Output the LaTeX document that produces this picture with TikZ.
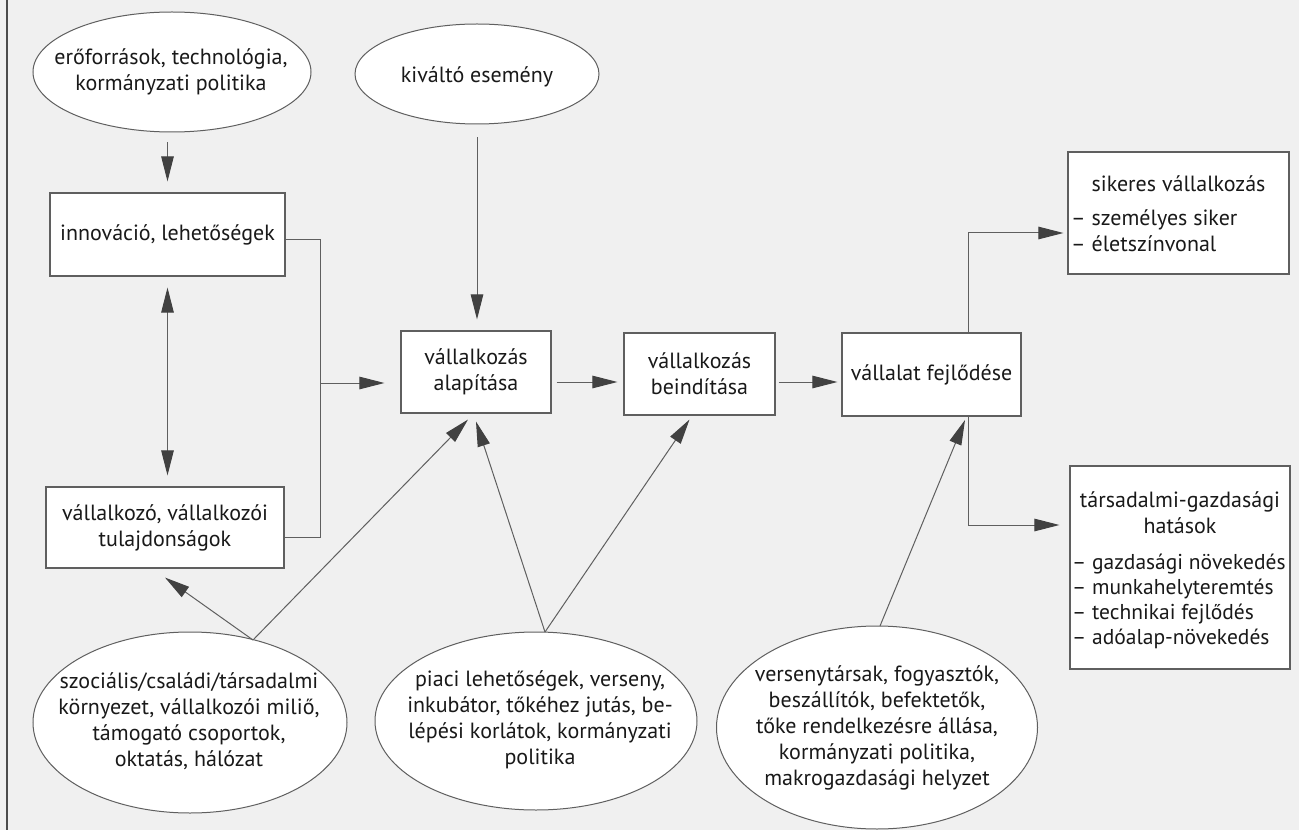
\documentclass[tikz,border=0pt]{standalone}
\usepackage{fontspec}
\setmainfont{PT Sans}
\usetikzlibrary{arrows.meta,shapes.geometric}
\definecolor{bgc}{RGB}{240,240,240}
\definecolor{lnc}{RGB}{95,95,95}
\definecolor{hdc}{RGB}{65,65,65}
\definecolor{txc}{RGB}{25,25,25}
\begin{document}
\begin{tikzpicture}[x=1pt,y=-1pt,
  every node/.style={font=\fontsize{22}{26}\selectfont, text=txc},
  boxn/.style={draw=lnc, line width=1.1pt, fill=white, rectangle, inner sep=0pt, align=center},
  elln/.style={draw=lnc, line width=1pt, fill=white, ellipse, inner sep=0pt},
  etext/.style={align=center, inner sep=0pt},
  conn/.style={draw=lnc, line width=1pt},
  arr/.style={conn, -{Triangle[length=25pt,width=12.5pt,fill=hdc,color=hdc]}},
  darr/.style={conn, {Triangle[length=25pt,width=12.5pt,fill=hdc,color=hdc]}-{Triangle[length=25pt,width=12.5pt,fill=hdc,color=hdc]}},
]
\fill[bgc] (0,0) rectangle (1299,837);
\useasboundingbox (0,0) rectangle (1299,837);
\fill[white] (0,830) rectangle (1299,837);
\draw[line width=1.5pt, black!70] (7,0) -- (7,830);

% ellipses
\node[elln, minimum width=278pt, minimum height=120pt] (e1) at (172,72) {};
\node[etext] (e1t) at (171,72) {erőforrások, technológia,\\kormányzati politika};
\node[elln, minimum width=244pt, minimum height=100pt] (e2) at (477,74) {};
\node[etext] (e2t) at (477,77) {kiváltó esemény};
\node[elln, minimum width=314pt, minimum height=181pt] (e3) at (190,722.5) {};
\node[etext] (e3t) at (189,721) {szociális/családi/társadalmi\\környezet, vállalkozói miliő,\\támogató csoportok,\\oktatás, hálózat};
\node[elln, minimum width=322pt, minimum height=178pt] (e4) at (536,721) {};
\node[etext] (e4t) at (540,720) {piaci lehetőségek, verseny,\\inkubátor, tőkéhez jutás, be-\\lépési korlátok, kormányzati\\politika};
\node[elln, minimum width=321pt, minimum height=203pt] (e5) at (877,727.5) {};
\node[etext] (e5t) at (877,728) {versenytársak, fogyasztók,\\beszállítók, befektetők,\\tőke rendelkezésre állása,\\kormányzati politika,\\makrogazdasági helyzet};

% boxes
\node[boxn, minimum width=235pt, minimum height=83pt] (innov) at (167.5,234.5) {innováció, lehetőségek};
\node[boxn, minimum width=238pt, minimum height=81pt] (vall) at (165,527.5) {vállalkozó, vállalkozói\\tulajdonságok};
\node[boxn, minimum width=150pt, minimum height=82pt] (alap) at (476,372) {vállalkozás\\alapítása};
\node[boxn, minimum width=151pt, minimum height=82pt] (bein) at (699.5,374) {vállalkozás\\beindítása};
\node[boxn, minimum width=179pt, minimum height=83pt] (fejl) at (931.5,374.5) {vállalat fejlődése};
\node[boxn, minimum width=221pt, minimum height=122pt] (siker) at (1178.5,213) {};
\node[inner sep=0pt] (sikert) at (1178.5,184) {sikeres vállalkozás};
\node[anchor=west, align=left, inner sep=0pt] (sikeri) at (1071,231) {– személyes siker\\– életszínvonal};
\node[boxn, minimum width=220pt, minimum height=203pt] (tars) at (1180,567.5) {};
\node[align=center, inner sep=0pt] (tarst) at (1180,513) {társadalmi-gazdasági\\hatások};
\node[anchor=west, align=left, inner sep=0pt, font=\fontsize{21.5}{25}\selectfont] (tarsi) at (1072,601) {– gazdasági növekedés\\– munkahelyteremtés\\– technikai fejlődés\\– adóalap-növekedés};

% coordinates
\coordinate (j1) at (320,240);
\coordinate (j2) at (320,537);
\coordinate (j3) at (320,383);
\coordinate (ya) at (0,382);
\coordinate (k1) at (968,233);
\coordinate (k2) at (968,525);
\coordinate (e3top) at (253,640);
\coordinate (e4top) at (545,632);
\coordinate (e5top) at (880,626);
\coordinate (f5) at (965,420);

% connectors
\draw[arr, shorten <=10pt, shorten >=11pt] (innov.north |- e1.south) -- (innov.north);
\draw[arr, shorten <=13pt, shorten >=11pt] (e2.south) -- (e2.south |- alap.north);
\draw[darr, shorten <=11pt, shorten >=11pt] (innov.south) -- (innov.south |- vall.north);
\draw[conn] (innov.east |- j1) -- (j1) -- (j2) -- (vall.east |- j2);
\draw[arr, shorten >=16pt] (j3) -- (alap.west |- j3);
\draw[arr, shorten <=5pt, shorten >=6pt] (alap.east |- ya) -- (bein.west |- ya);
\draw[arr, shorten <=3pt, shorten >=4pt] (bein.east |- ya) -- (fejl.west |- ya);
\draw[arr, shorten >=4pt] (fejl.north -| k1) -- (k1) -- (siker.west |- k1);
\draw[arr, shorten >=10pt] (fejl.south -| k1) -- (k2) -- (tars.west |- k2);
\draw[arr] (e3top) -- ([yshift=-9pt]vall.south);
\draw[arr] (e3top) -- ([xshift=-8pt,yshift=-6pt]alap.south);
\draw[arr] (e4top) -- ([yshift=-8pt]alap.south);
\draw[arr] (e4top) -- ([xshift=-10pt,yshift=-4pt]bein.south);
\draw[arr] (e5top) -- (f5);
\end{tikzpicture}
\end{document}
